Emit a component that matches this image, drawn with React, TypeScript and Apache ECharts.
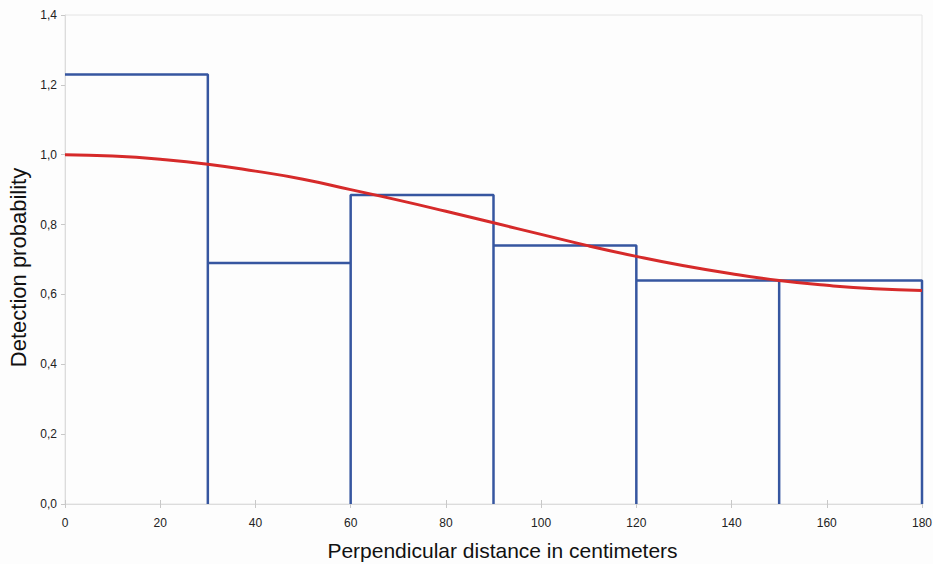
import React, { useEffect, useRef } from "react";
import * as echarts from "echarts";

// Histogram bins (cm) and observed detection proportions
const binEdges = [0, 30, 60, 90, 120, 150, 180];
const binHeights = [1.23, 0.69, 0.885, 0.74, 0.64, 0.64];

// Fitted detection function, sampled every 10 cm
const curveX = [0, 10, 20, 30, 40, 50, 60, 70, 80, 90, 100, 110, 120, 130, 140, 150, 160, 170, 180];
const curveY = [1.0, 0.996, 0.987, 0.973, 0.953, 0.93, 0.9, 0.87, 0.838, 0.805, 0.772, 0.739, 0.709, 0.682, 0.659, 0.64, 0.626, 0.616, 0.611];

const xTitle = "Perpendicular distance in centimeters";
const yTitle = "Detection probability";

export default function App() {
  const ref = useRef<HTMLDivElement>(null);
  useEffect(() => {
    if (!ref.current) return;
    const chart = echarts.init(ref.current, null, { renderer: "svg" });

    // Build the step outline: top of each bin then its right side down to 0
    const steps: number[][] = [];
    for (let i = 0; i < binHeights.length; i++) {
      steps.push([binEdges[i], binHeights[i]]);
      steps.push([binEdges[i + 1], binHeights[i]]);
      steps.push([binEdges[i + 1], 0]);
    }
    const curve = curveX.map((x, i) => [x, curveY[i]]);

    const axisGray = "#dcdcdc";
    const labelStyle = { color: "#222", fontSize: 12, fontFamily: "Liberation Sans, Arial, sans-serif" };

    chart.setOption({
      animation: false,
      backgroundColor: "#fdfdfd",
      grid: {
        left: 65, right: 11, top: 15, bottom: 60,
        show: true, borderColor: "#e4e4e4", borderWidth: 1,
        containLabel: false, outerBoundsMode: "none",
      },
      xAxis: [
        {
          type: "value",
          min: 0,
          max: 180,
          interval: 20,
          name: xTitle,
          nameLocation: "middle",
          nameGap: 36,
          nameTextStyle: {
            color: "#111", fontSize: 21, fontFamily: "Liberation Sans, Arial, sans-serif",
            padding: [0, 0, 0, 18],
          },
          axisLine: { show: true, lineStyle: { color: axisGray } },
          axisTick: { show: true, length: 4, lineStyle: { color: "#c8c8c8" } },
          axisLabel: { ...labelStyle, margin: 13 },
          splitLine: { show: false },
        },
        {
          type: "value",
          min: 0,
          max: 180,
          interval: 20,
          position: "bottom",
          axisLine: { show: false },
          axisTick: { show: true, inside: true, length: 4, lineStyle: { color: "#c8c8c8" } },
          axisLabel: { show: false },
          splitLine: { show: false },
        },
      ],
      yAxis: {
        type: "value",
        min: 0,
        max: 1.4,
        interval: 0.2,
        name: yTitle,
        nameLocation: "middle",
        nameGap: 36,
        nameTextStyle: {
          color: "#111", fontSize: 22, fontFamily: "Liberation Sans, Arial, sans-serif",
          padding: [0, 16, 0, 0],
        },
        axisLine: { show: true, lineStyle: { color: axisGray } },
        axisTick: { show: true, length: 4, lineStyle: { color: "#c8c8c8" } },
        axisLabel: {
          ...labelStyle,
          margin: 8,
          formatter: (v: number) => v.toFixed(1).replace(".", ","),
        },
        splitLine: { show: false },
      },
      series: [
        {
          type: "line",
          data: steps,
          showSymbol: false,
          symbol: "none",
          lineStyle: { color: "#3656a0", width: 2.5 },
          z: 2,
        },
        {
          type: "line",
          data: curve,
          smooth: true,
          showSymbol: false,
          symbol: "none",
          lineStyle: { color: "#d62a2a", width: 3 },
          z: 3,
        },
      ],
    });
    return () => chart.dispose();
  }, []);
  return <div ref={ref} style={{ width: 933, height: 564, position: "absolute", left: 0, top: 0 }} />;
}
